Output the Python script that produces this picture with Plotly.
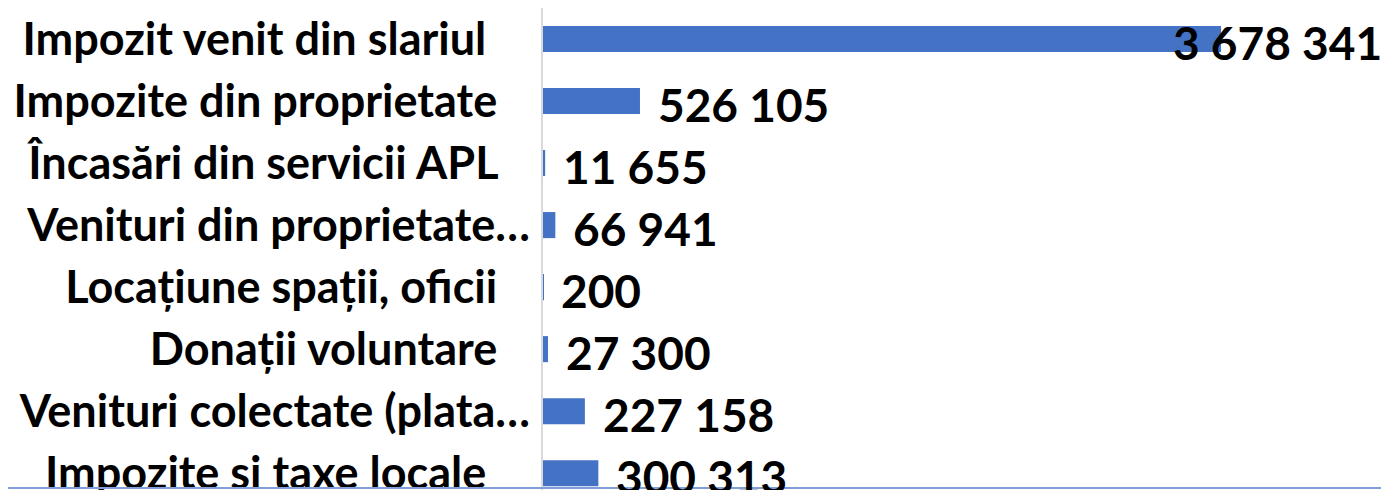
import plotly.graph_objects as go

categories = [
    "Impozit venit din slariul",
    "Impozite din proprietate",
    "Încasări din servicii APL",
    "Venituri din proprietate…",
    "Locațiune spații, oficii",
    "Donații voluntare",
    "Venituri colectate (plata…",
    "Impozite si taxe locale",
]
values = [3678341, 526105, 11655, 66941, 200, 27300, 227158, 300313]
value_labels = ["3 678 341", "526 105", "11 655", "66 941", "200", "27 300", "227 158", "300 313"]

# value label offsets and trailing padding of category labels (Excel look)
label_shift = [-50, 16, 16, 16, 16, 16, 16, 16]
label_pad = [4, 3, 3, 0, 3, 3, 0, 4]

BLUE = "#4472C4"
FONT = "Lato"

tick_text = ["<b>" + c + "\u00a0" * p + "</b>" for c, p in zip(categories, label_pad)]

fig = go.Figure()
fig.add_trace(go.Bar(
    x=values,
    y=categories,
    orientation="h",
    marker=dict(color=BLUE, line=dict(width=0)),
    hoverinfo="x+y",
))

for cat, v, lab, sh in zip(categories, values, value_labels, label_shift):
    fig.add_annotation(
        x=v, y=cat, text="<b>" + lab + "</b>",
        xanchor="left", yanchor="middle", xshift=sh, yshift=-3,
        showarrow=False, font=dict(family=FONT, size=46, color="#000000"),
    )

# right edge artifact and bottom border seen in the source
fig.add_shape(type="line", xref="paper", yref="paper", x0=0.988, x1=0.988,
              y0=0.724, y1=0.792, line=dict(color="#000000", width=2))
fig.add_shape(type="line", xref="paper", yref="paper", x0=-0.7, x1=1,
              y0=0.0204, y1=0.0204, line=dict(color="#7F9FD6", width=2))

fig.update_layout(
    width=1389,
    height=490,
    margin=dict(l=535, r=0, t=0, b=0, autoexpand=False),
    paper_bgcolor="white",
    plot_bgcolor="white",
    showlegend=False,
    bargap=0.58,
    font=dict(family=FONT, color="#000000"),
    xaxis=dict(
        range=[0, 4.633e6],
        visible=False,
        showgrid=False,
        zeroline=False,
    ),
    yaxis=dict(
        categoryorder="array",
        categoryarray=categories,
        tickmode="array",
        tickvals=categories,
        ticktext=tick_text,
        range=[7.4, -0.5],
        automargin=False,
        showline=True,
        linecolor="#D9D9D9",
        linewidth=2,
        showgrid=False,
        ticks="outside",
        ticklen=2,
        tickcolor="rgba(0,0,0,0)",
        tickfont=dict(family=FONT, size=45, color="#000000"),
    ),
)

fig.write_html("out.html")
